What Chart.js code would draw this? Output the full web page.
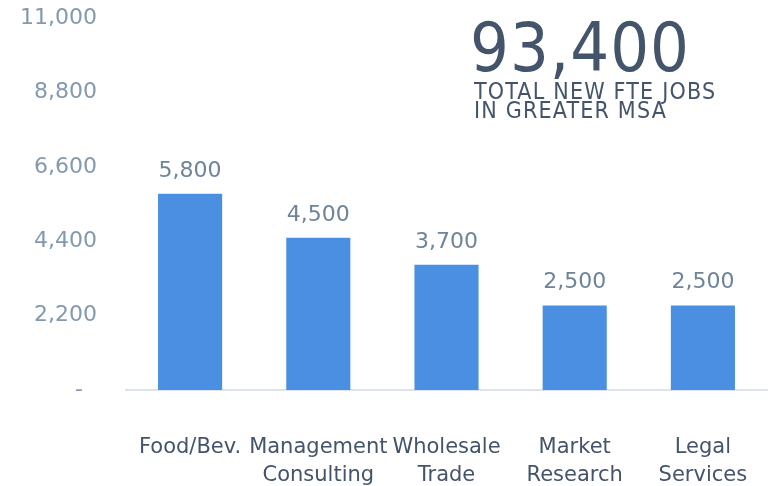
<!DOCTYPE html>
<html>
<head>
<meta charset="utf-8">
<script src="https://cdn.jsdelivr.net/npm/chart.js@4"></script>
<style>
  html, body { margin: 0; padding: 0; background: #fff; }
  #wrap { position: relative; width: 777px; height: 486px; }
  #callout { position: absolute; left: 470px; top: 14px; color: #44546a; font-family: "DejaVu Sans Condensed", "DejaVu Sans", sans-serif; }
  #callout .big { font-size: 68px; line-height: 68px; font-weight: 300; letter-spacing: 1px; }
  #callout .sub { font-size: 23px; line-height: 19px; margin-top: 0; padding-left: 4px; letter-spacing: 1.2px; }
</style>
</head>
<body>
<div id="wrap">
  <canvas id="jobsBar" width="777" height="486"></canvas>
  <div id="callout">
    <div class="big">93,400</div>
    <div class="sub">TOTAL NEW FTE JOBS<br>IN GREATER MSA</div>
  </div>
</div>
<script>
// Emplois par secteur
const categories = [['Food/Bev.'], ['Management', 'Consulting'], ['Wholesale', 'Trade'], ['Market', 'Research'], ['Legal', 'Services']];
const jobs = [5800, 4500, 3700, 2500, 2500];
const yTicks = [0, 2200, 4400, 6600, 8800, 11000];

const BLUE = '#4a8fe1', TICK = '#8299b0', LABEL = '#44546a', VALUE = '#6e8499';
const FONT = '"DejaVu Sans", sans-serif';

const fmt = v => v === 0 ? '-' : v.toLocaleString('en-US');

// Étiquettes de valeur au-dessus des barres
const valueLabels = {
  id: 'valueLabels',
  afterDatasetsDraw(chart){
    const { ctx } = chart;
    const meta = chart.getDatasetMeta(0);
    ctx.save();
    ctx.font = '22px ' + FONT;
    ctx.fillStyle = VALUE;
    ctx.textAlign = 'center';
    ctx.textBaseline = 'bottom';
    meta.data.forEach((bar, i) => ctx.fillText(fmt(jobs[i]), bar.x, bar.y - 12));
    ctx.restore();
  }
};

new Chart(document.getElementById('jobsBar'), {
  type: 'bar',
  data: {
    labels: categories,
    datasets: [{
      data: jobs,
      backgroundColor: BLUE,
      barPercentage: 0.5,
      categoryPercentage: 1
    }]
  },
  options: {
    responsive: false,
    animation: false,
    layout: { padding: 0 },
    plugins: { legend: { display: false }, tooltip: { enabled: false } },
    scales: {
      y: {
        min: 0, max: 11000,
        afterBuildTicks: s => { s.ticks = yTicks.map(v => ({ value: v })); },
        afterFit: s => { s.width = 126; s.paddingTop = 18; s.paddingBottom = 0; },
        grid: { display: false, drawTicks: false },
        border: { display: false },
        ticks: { color: TICK, font: { family: FONT, size: 22 }, padding: 29, callback: v => v === 0 ? '-  ' : fmt(v) }
      },
      x: {
        afterFit: s => { s.height = 96; s.paddingLeft = 0; s.paddingRight = 10; },
        grid: { display: false },
        border: { display: true, color: '#dde3ea', width: 2 },
        ticks: { color: LABEL, font: { family: FONT, size: 21, lineHeight: 1.35 }, padding: 35, maxRotation: 0, autoSkip: false }
      }
    }
  },
  plugins: [valueLabels]
});
</script>
</body>
</html>
